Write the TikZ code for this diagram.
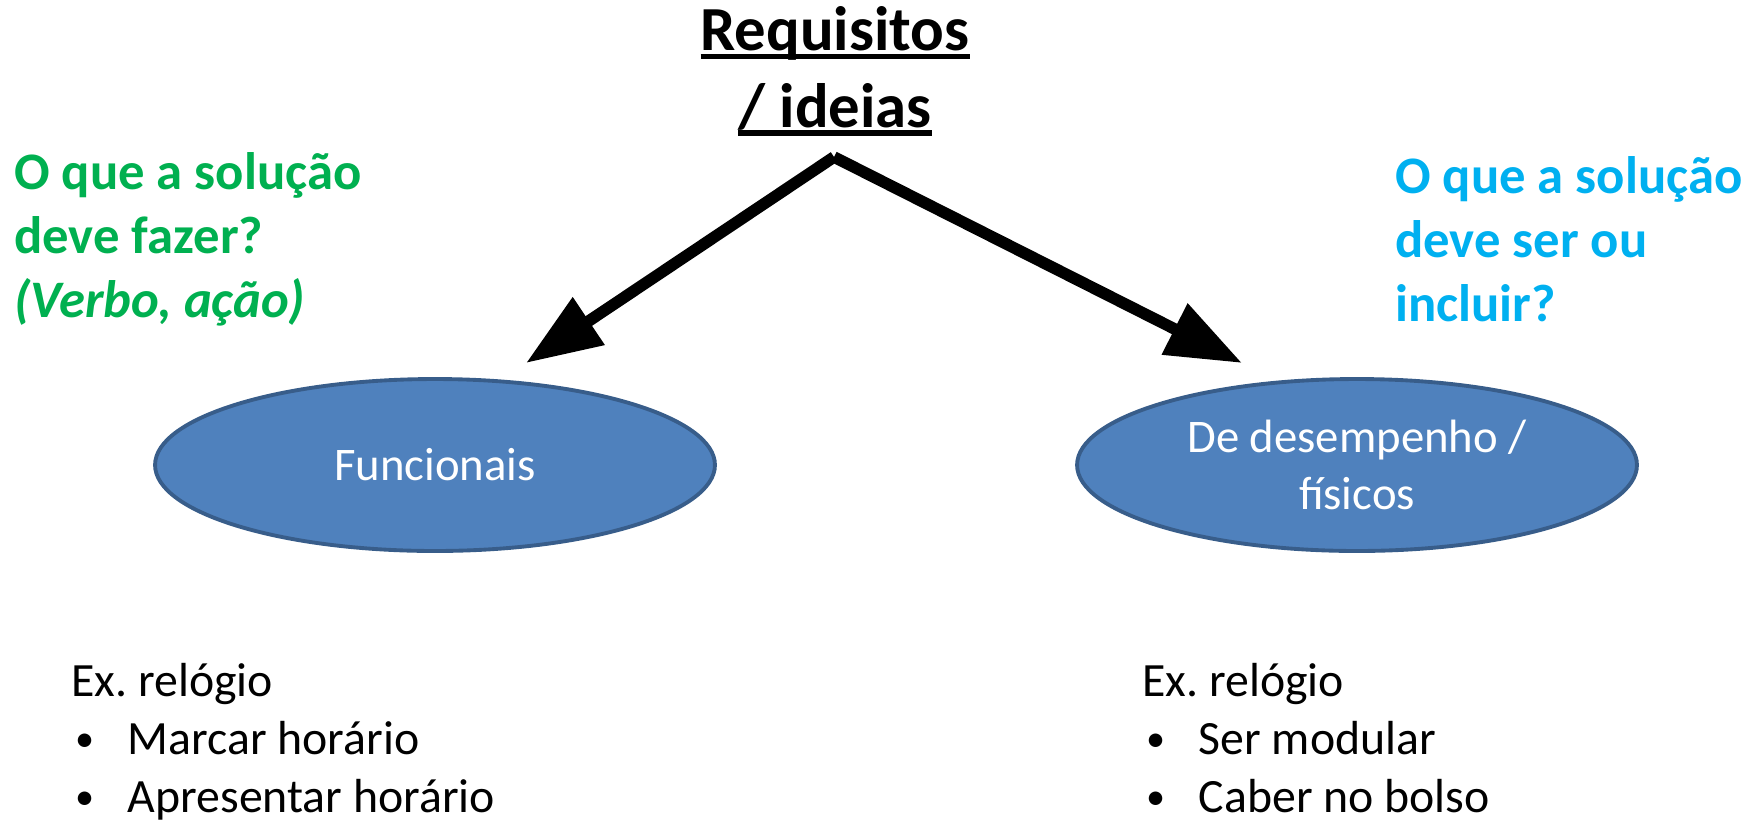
\documentclass[tikz,border=0pt]{standalone}
\usepackage{fontspec}
\setmainfont{Carlito}
\usetikzlibrary{shapes.geometric,arrows.meta,positioning}

\definecolor{reqfill}{HTML}{4F81BD}
\definecolor{reqline}{HTML}{385D8A}
\definecolor{qgreen}{HTML}{00B050}
\definecolor{qblue}{HTML}{00B0F0}

% underline drawn under a box of text
\newcommand{\ulined}[1]{\setbox0=\hbox{#1}\rlap{\rule[-0.14em]{\wd0}{0.09em}}\box0}
\newcommand{\bul}{\hspace*{0.08em}\makebox[1.1em][l]{\raisebox{0.06em}{\scalebox{0.8}{•}}}}

\begin{document}
\begin{tikzpicture}[x=0.02cm,y=-0.02cm,every node/.style={inner sep=0pt},
	req/.style={ellipse,draw=reqline,line width=2.2pt,fill=reqfill,text=white,
		minimum width=11.2cm,minimum height=3.44cm,align=center,
		font=\fontsize{26.6}{32.3}\selectfont},
	quest/.style={anchor=base west,align=left,font=\fontsize{30}{36.3}\selectfont\bfseries},
	exlist/.style={anchor=base west,align=left,font=\fontsize{27.2}{33}\selectfont\frenchspacing},
	bigarrow/.style={line width=6.6pt,-{Triangle[length=43pt,width=31pt]}}]
	\useasboundingbox (0,0) rectangle (1763,822);
	% base anchors sit on the last line of each text
	\node[align=center,anchor=base,font=\fontsize{35.7}{43.6}\selectfont\bfseries] (title) at (835,127)
		{\ulined{Requisitos}\\\ulined{/ ideias}};
	\node[quest,text=qgreen] (fazer) at (14,317) {O que a solução\\deve fazer?\\\textit{(Verbo, ação)}};
	\node[quest,text=qblue] (ser) at (1395,321) {O que a solução\\deve ser ou\\incluir?};
	\node[req] (func) at (435,465) {Funcionais};
	\node[req] (desemp) at (1357,465) {De desempenho /\\físicos};
	\node[exlist] (exfunc) at (71,812) {Ex. relógio\\\bul Marcar horário\\\bul Apresentar horário};
	\node[exlist] (exdesemp) at (1142,812) {Ex. relógio\\\bul Ser modular\\\bul Caber no bolso};
	\coordinate (apex) at (834,157);
	\coordinate (tipfunc) at (526,363);
	\coordinate (tipdesemp) at (1242,363);
	\draw[bigarrow] (apex) -- (tipfunc);
	\draw[bigarrow] (apex) -- (tipdesemp);
\end{tikzpicture}
\end{document}
